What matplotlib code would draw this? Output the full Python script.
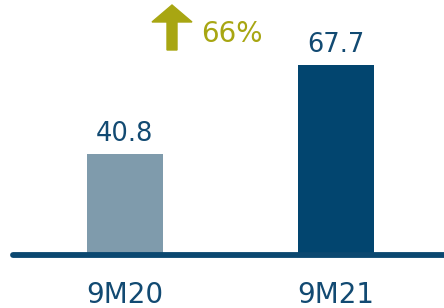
import numpy as np
from matplotlib import pyplot as plt
from matplotlib.patches import FancyArrow

# values in the chart
periods = ['9M20', '9M21']
values = [40.8, 67.7]
value_labels = ['40.8', '67.7']
growth_label = '66%'

bar_colors = ['#7f9bac', '#02456f']
text_color = '#124a72'
olive = '#a8a612'

fig = plt.figure(figsize=(4.44, 3.08), dpi=100)
ax = fig.add_axes([0, 53 / 308, 1, 255 / 308])

x = np.arange(len(periods))
ax.bar(x, values, width=0.36, color=bar_colors, zorder=2)
ax.set_xlim(-0.592, 1.512)
ax.set_ylim(10.3, 87.3)

# value labels above bars
for xi, v, lab in zip(x, values, value_labels):
    ax.annotate(lab, xy=(xi, v), xytext=(0, 9), textcoords='offset points',
                ha='center', va='baseline', fontsize=18.5, color=text_color)

# baseline with rounded ends
ax.plot([13 / 444, 1.02], [0, 0], transform=ax.transAxes, color='#0b4870',
        linewidth=4.2, solid_capstyle='round', clip_on=False, zorder=3)

# category labels
ax.set_xticks(x, periods)
ax.tick_params(axis='x', length=0, pad=18.5, labelsize=20, labelcolor=text_color)
ax.set_yticks([])
for s in ax.spines.values():
    s.set_visible(False)

# growth arrow and label
fig.add_artist(FancyArrow(
    172 / 444, 258 / 308, 0, 45 / 308, width=10 / 444, head_width=40 / 444,
    head_length=17 / 308, length_includes_head=True, color=olive,
    transform=fig.transFigure))
fig.text(201 / 444, 266 / 308, growth_label, fontsize=20, color=olive,
         ha='left', va='baseline')

plt.savefig('out.png', dpi=100)
